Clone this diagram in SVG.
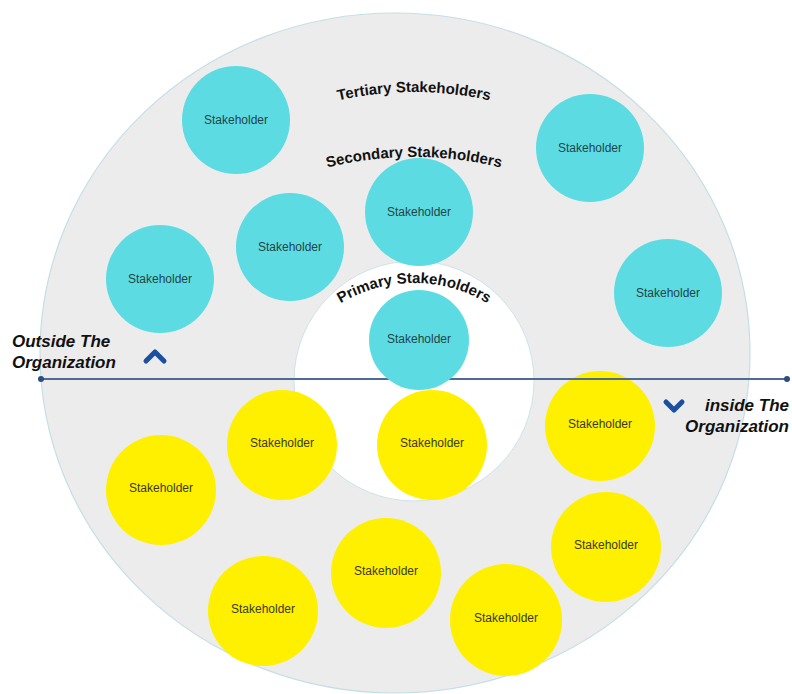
<svg xmlns="http://www.w3.org/2000/svg" width="792" height="694" viewBox="0 0 792 694">
<style>
.cy{fill:#5cdce2}
.ye{fill:#fff000}
.lab{font-family:"Liberation Sans",Arial,sans-serif;font-size:12px;text-anchor:middle}
.lc{fill:#1f4548}
.ly{fill:#3a3a1a}
.arc{font-family:"Liberation Sans",Arial,sans-serif;font-size:15px;font-weight:bold;fill:#111}
.side{font-family:"Liberation Sans",Arial,sans-serif;font-size:17px;font-weight:bold;font-style:italic;fill:#111}
.chev{fill:none;stroke:#1b4fa0;stroke-width:5;stroke-linecap:round;stroke-linejoin:round}
</style>
<defs>
<path id="pT" d="M 195.5 171.5 A 340 340 0 0 1 632.5 171.5"/>
<path id="pS" d="M 207.5 222.1 A 360 360 0 0 1 620.5 222.1"/>
<path id="pP" d="M 291 354 A 142 142 0 0 1 537 354"/>
</defs>
<rect width="792" height="694" fill="#ffffff"/>
<g id="outer-ring">
<ellipse cx="395" cy="353" rx="355" ry="340" fill="#ececed" stroke="#c4dfe4" stroke-width="1.2"/>
</g>
<g id="inner-ring">
<circle cx="414" cy="381" r="120" fill="#ffffff" stroke="#cfe3e8" stroke-width="1"/>
</g>
<g id="s-t1"><circle class="cy" cx="236" cy="120" r="54"/><text class="lab lc" x="236" y="124">Stakeholder</text></g>
<g id="s-t2"><circle class="cy" cx="590" cy="148" r="54"/><text class="lab lc" x="590" y="152">Stakeholder</text></g>
<g id="s-t3"><circle class="cy" cx="668" cy="293" r="54"/><text class="lab lc" x="668" y="297">Stakeholder</text></g>
<g id="s-t4"><circle class="cy" cx="160" cy="279" r="54"/><text class="lab lc" x="160" y="283">Stakeholder</text></g>
<g id="s-s1"><circle class="cy" cx="290" cy="247" r="54"/><text class="lab lc" x="290" y="251">Stakeholder</text></g>
<g id="s-s2"><circle class="cy" cx="419" cy="212" r="54"/><text class="lab lc" x="419" y="216">Stakeholder</text></g>
<g id="y1"><circle class="ye" cx="282" cy="445" r="55"/><text class="lab ly" x="282" y="447">Stakeholder</text></g>
<g id="y2"><circle class="ye" cx="432" cy="445" r="55"/><text class="lab ly" x="432" y="447">Stakeholder</text></g>
<g id="y3"><circle class="ye" cx="161" cy="490" r="55"/><text class="lab ly" x="161" y="492">Stakeholder</text></g>
<g id="y4"><circle class="ye" cx="600" cy="426" r="55"/><text class="lab ly" x="600" y="428">Stakeholder</text></g>
<g id="y5"><circle class="ye" cx="606" cy="547" r="55"/><text class="lab ly" x="606" y="549">Stakeholder</text></g>
<g id="y6"><circle class="ye" cx="386" cy="573" r="55"/><text class="lab ly" x="386" y="575">Stakeholder</text></g>
<g id="y7"><circle class="ye" cx="263" cy="611" r="55"/><text class="lab ly" x="263" y="613">Stakeholder</text></g>
<g id="y8"><circle class="ye" cx="506" cy="620" r="56"/><text class="lab ly" x="506" y="622">Stakeholder</text></g>
<g id="connectors">
<line x1="41" y1="379" x2="787" y2="379" stroke="#4d6b96" stroke-width="2"/>
<circle cx="41" cy="379" r="3" fill="#2b4d80"/>
<circle cx="787" cy="379" r="3" fill="#2b4d80"/>
</g>
<g id="s-p1"><circle class="cy" cx="419" cy="340" r="50"/><text class="lab lc" x="419" y="343">Stakeholder</text></g>
<g id="titles">
<text class="arc"><textPath href="#pT" startOffset="50%" text-anchor="middle">Tertiary Stakeholders</textPath></text>
<text class="arc"><textPath href="#pS" startOffset="50%" text-anchor="middle">Secondary Stakeholders</textPath></text>
<text class="arc"><textPath href="#pP" startOffset="50%" text-anchor="middle">Primary Stakeholders</textPath></text>
</g>
<g id="outside">
<text class="side" x="12" y="347">Outside The</text>
<text class="side" x="12" y="368">Organization</text>
<polyline class="chev" points="146,361 155,352 164,361"/>
</g>
<g id="inside">
<text class="side" x="789" y="411" text-anchor="end">inside The</text>
<text class="side" x="789" y="432" text-anchor="end">Organization</text>
<polyline class="chev" points="666,402 674,410 682,402"/>
</g>
</svg>
